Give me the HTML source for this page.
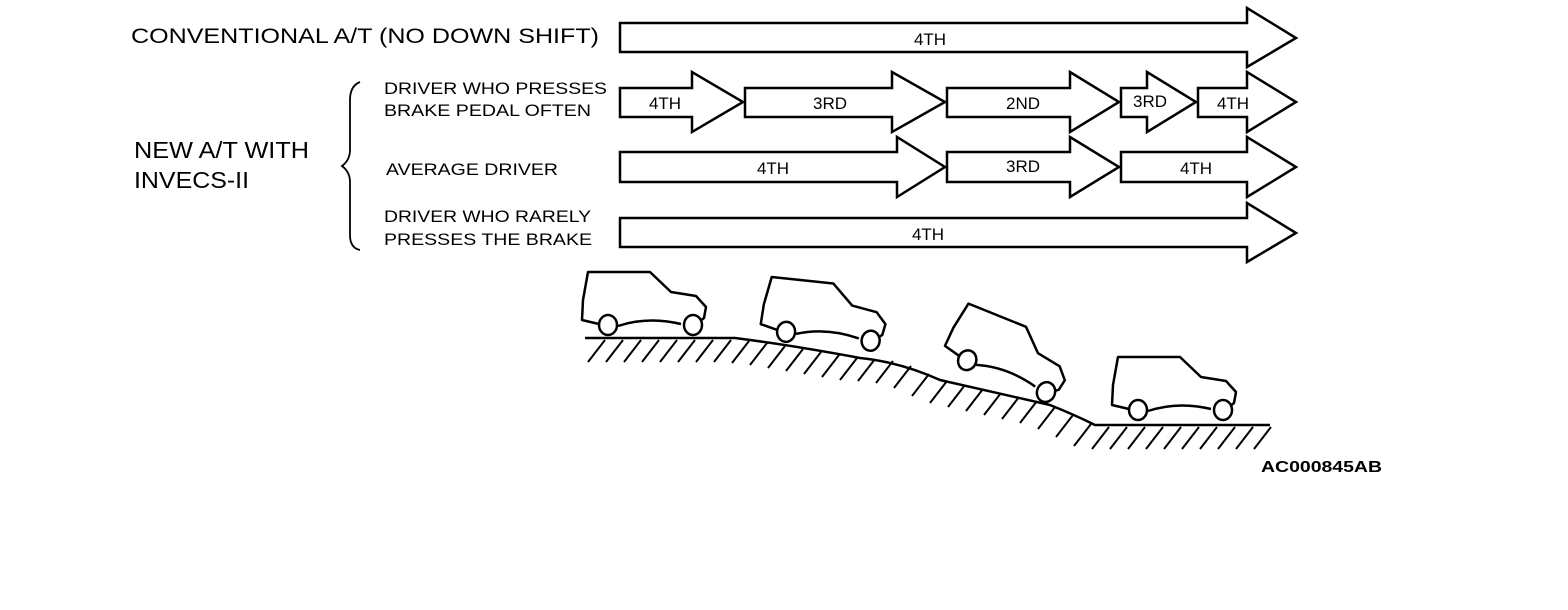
<!DOCTYPE html>
<html><head><meta charset="utf-8"><style>
html,body{margin:0;padding:0;background:#fff;}
svg{display:block;}
text{font-family:"Liberation Sans",sans-serif;fill:#000;}
</style></head><body>
<svg width="1568" height="610" viewBox="0 0 1568 610" xmlns="http://www.w3.org/2000/svg">
<defs>
<g id="car" fill="none" stroke="#000" stroke-width="2.5" stroke-linejoin="round">
<path d="M21,54 L4,50 L5,30 L10,2 L72,2 L93,22 L118,26 L128,37 L126,48 L116,56"/>
<path d="M40,56 Q70,46 103,54"/>
<ellipse cx="30" cy="55" rx="9" ry="10" fill="#fff"/>
<ellipse cx="115" cy="55" rx="9" ry="10" fill="#fff"/>
</g>
</defs>
<g font-size="21">
<text x="131" y="43" textLength="468" lengthAdjust="spacingAndGlyphs">CONVENTIONAL A/T (NO DOWN SHIFT)</text>
<text x="134" y="158" font-size="23" textLength="175" lengthAdjust="spacingAndGlyphs">NEW A/T WITH</text>
<text x="134" y="188" font-size="23" textLength="115" lengthAdjust="spacingAndGlyphs">INVECS-II</text>
</g>
<g font-size="17">
<text x="384" y="94" textLength="223" lengthAdjust="spacingAndGlyphs">DRIVER WHO PRESSES</text>
<text x="384" y="116" textLength="207" lengthAdjust="spacingAndGlyphs">BRAKE PEDAL OFTEN</text>
<text x="386" y="175" textLength="172" lengthAdjust="spacingAndGlyphs">AVERAGE DRIVER</text>
<text x="384" y="222" textLength="207" lengthAdjust="spacingAndGlyphs">DRIVER WHO RARELY</text>
<text x="384" y="245" textLength="208" lengthAdjust="spacingAndGlyphs">PRESSES THE BRAKE</text>
</g>
<path d="M360,82 Q350,86 350,100 L350,150 Q350,160 342,166 Q350,172 350,182 L350,235 Q350,248 360,250" fill="none" stroke="#000" stroke-width="1.8"/>
<g fill="#fff" stroke="#000" stroke-width="2.5" stroke-linejoin="miter">
<path d="M620,23 H1247 V8 L1296,38 L1247,67 V52 H620 Z"/>
<path d="M620,88 H692 V72 L743,102 L692,132 V117 H620 Z"/>
<path d="M745,88 H892 V72 L945,102 L892,132 V117 H745 Z"/>
<path d="M947,88 H1070 V72 L1119,102 L1070,132 V117 H947 Z"/>
<path d="M1121,88 H1147 V72 L1196,102 L1147,132 V117 H1121 Z"/>
<path d="M1198,88 H1247 V72 L1296,102 L1247,132 V117 H1198 Z"/>
<path d="M620,152 H897 V137 L945,167 L897,197 V182 H620 Z"/>
<path d="M947,152 H1070 V137 L1119,167 L1070,197 V182 H947 Z"/>
<path d="M1121,152 H1247 V137 L1296,167 L1247,197 V182 H1121 Z"/>
<path d="M620,218 H1247 V203 L1296,233 L1247,262 V247 H620 Z"/>
</g>
<g font-size="17" text-anchor="middle">
<text x="930" y="45">4TH</text>
<text x="665" y="109">4TH</text>
<text x="830" y="109">3RD</text>
<text x="1023" y="109">2ND</text>
<text x="1150" y="107">3RD</text>
<text x="1233" y="109">4TH</text>
<text x="773" y="174">4TH</text>
<text x="1023" y="172">3RD</text>
<text x="1196" y="174">4TH</text>
<text x="928" y="240">4TH</text>
</g>
<path d="M585,338 L735,338 Q790,345 860,358 Q900,362 940,380 L1050,405 Q1075,415 1095,425 L1270,425" fill="none" stroke="#000" stroke-width="2.5"/>
<g stroke="#000" stroke-width="2">
<path d="M605,340 l-17,22 M623,340 l-17,22 M641,340 l-17,22 M659,340 l-17,22 M677,340 l-17,22 M695,340 l-17,22 M713,340 l-17,22 M731,340 l-17,22 M749,341 l-17,22 M767,343 l-17,22 M785,346 l-17,22 M803,349 l-17,22 M821,352 l-17,22 M839,355 l-17,22 M857,358 l-17,22 M875,359 l-17,22 M893,361 l-17,22 M911,366 l-17,22 M929,374 l-17,22 M947,381 l-17,22 M965,385 l-17,22 M983,389 l-17,22 M1001,393 l-17,22 M1019,397 l-17,22 M1037,401 l-17,22 M1055,407 l-17,22 M1073,415 l-17,22 M1091,424 l-17,22 M1109,427 l-17,22 M1127,427 l-17,22 M1145,427 l-17,22 M1163,427 l-17,22 M1181,427 l-17,22 M1199,427 l-17,22 M1217,427 l-17,22 M1235,427 l-17,22 M1253,427 l-17,22 M1271,427 l-17,22"/>
</g>
<use href="#car" transform="translate(578,270)"/>
<use href="#car" transform="translate(762,274) rotate(6)"/>
<use href="#car" transform="translate(960,298) rotate(22)"/>
<use href="#car" transform="translate(1108,355)"/>
<text x="1261" y="472" font-size="16" font-weight="bold" textLength="121" lengthAdjust="spacingAndGlyphs">AC000845AB</text>
</svg>
</body></html>
